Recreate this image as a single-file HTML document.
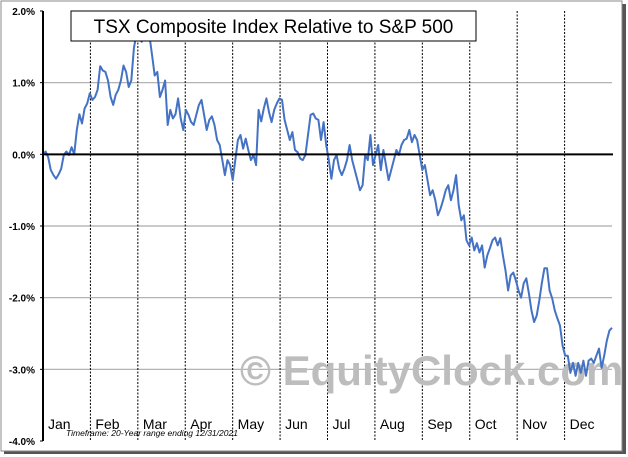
<!DOCTYPE html>
<html><head><meta charset="utf-8"><style>
body{margin:0;background:#fff;}
svg{display:block;font-family:"Liberation Sans",Verdana,sans-serif;}
</style></head><body>
<svg width="628" height="457" viewBox="0 0 628 457">
<rect x="4" y="4" width="622" height="450" fill="#555"/>
<rect x="1" y="1" width="621" height="450" fill="#fff" stroke="#888"/>
<g id="grid"></g>
<text x="240" y="385" font-size="42" font-weight="bold" fill="#bdbdbd">© EquityClock.com</text>
<g id="series"></g>
<g id="axes"></g>
<rect x="71" y="11" width="405" height="30" fill="#fff" stroke="#000"/>
<text x="273.5" y="33" font-size="19" text-anchor="middle" fill="#000">TSX Composite Index Relative to S&amp;P 500</text>
<text x="66" y="436" font-size="8.5" font-style="italic" fill="#000">Timeframe:  20-Year range ending 12/31/2021</text>
</svg>
<script>
const months=["Jan","Feb","Mar","Apr","May","Jun","Jul","Aug","Sep","Oct","Nov","Dec"];
const yTicks=[2,1,0,-1,-2,-3,-4];
const yTickLabels=["2.0%","1.0%","0.0%","-1.0%","-2.0%","-3.0%","-4.0%"];
const values=[0,0.04,-0.04,-0.22,-0.29,-0.34,-0.28,-0.2,-0.01,0.04,-0.01,0.1,0,0.34,0.56,0.43,0.64,0.71,0.85,0.76,0.8,0.9,1.23,1.17,1.15,1.03,0.8,0.69,0.83,0.9,1.03,1.24,1.15,0.94,1.03,1.48,1.69,1.62,1.57,1.64,1.69,1.65,1.38,1.1,1.15,0.8,0.9,1.03,0.41,0.62,0.5,0.56,0.78,0.5,0.34,0.62,0.55,0.45,0.41,0.55,0.69,0.76,0.55,0.34,0.48,0.53,0.41,0.2,0.13,-0.08,-0.29,-0.08,-0.15,-0.36,-0.08,0.2,0.27,0.08,0.22,0.06,-0.08,-0.01,-0.15,0.62,0.46,0.64,0.78,0.59,0.45,0.62,0.71,0.78,0.76,0.48,0.34,0.2,0.31,0.06,0.03,-0.06,-0.08,-0.01,0.27,0.55,0.57,0.5,0.48,0.2,0.45,0.13,-0.08,-0.34,-0.08,-0.01,-0.2,-0.29,-0.2,-0.08,0.13,-0.08,-0.22,-0.36,-0.5,-0.43,-0.01,-0.08,0.27,-0.15,-0.01,0.13,-0.22,0.06,-0.15,-0.36,-0.22,-0.08,0.06,-0.01,0.13,0.2,0.22,0.34,0.17,0.27,0.2,-0.01,-0.22,-0.15,-0.36,-0.57,-0.5,-0.64,-0.85,-0.76,-0.64,-0.5,-0.43,-0.64,-0.5,-0.29,-0.71,-0.92,-0.85,-1.2,-1.27,-1.16,-1.34,-1.24,-1.37,-1.27,-1.58,-1.41,-1.31,-1.2,-1.16,-1.27,-1.17,-1.41,-1.62,-1.9,-1.69,-1.65,-1.76,-1.9,-2.0,-1.8,-1.73,-1.94,-2.18,-2.34,-2.25,-2.04,-1.8,-1.59,-1.59,-1.9,-2.01,-2.18,-2.29,-2.39,-2.67,-2.81,-2.81,-3.05,-2.91,-3.09,-2.91,-3.05,-2.88,-3.09,-2.88,-2.85,-2.91,-2.81,-2.71,-2.98,-2.81,-2.6,-2.46,-2.42];
const NS="http://www.w3.org/2000/svg";
const X0=43,X1=612,YTOP=11,YBOT=441,VMAX=2,VMIN=-4;
const yS=v=>YTOP+(VMAX-v)/(VMAX-VMIN)*(YBOT-YTOP);
const mS=i=>X0+i*(X1-X0)/months.length;
const iS=i=>X0+i*(X1-X0)/(values.length-1);
function mk(t,a,p){const e=document.createElementNS(NS,t);for(const k in a)e.setAttribute(k,a[k]);p.appendChild(e);return e;}
const grid=document.getElementById('grid'),axes=document.getElementById('axes'),series=document.getElementById('series');
yTicks.forEach((v,i)=>{
  if(v!==0&&v!==VMAX&&v!==VMIN){const l=mk('line',{x1:X0,x2:X1,y1:yS(v),y2:yS(v),stroke:'#aaa','stroke-width':1.2},grid);
  
  }
  const t=mk('text',{x:35,y:yS(v)+4,'font-size':10,'font-weight':'bold','text-anchor':'end',fill:'#000'},axes);
  t.textContent=yTickLabels[i];
  
  
  const tk=mk('line',{x1:X0-3,x2:X0,y1:yS(v),y2:yS(v),stroke:'#000'},axes);
  
  
});
months.forEach((m,i)=>{
  if(i>0){const l=mk('line',{x1:mS(i),x2:mS(i),y1:YTOP,y2:YBOT,stroke:'#000','stroke-dasharray':'2,1.5','stroke-width':1},grid);
  
  }
  const t=mk('text',{x:mS(i)+5,y:429,'font-size':14,fill:'#000'},axes);
  t.textContent=m;
  
  
});
const zl=mk('line',{x1:X0,x2:X1+1,y1:yS(0),y2:yS(0),stroke:'#000','stroke-width':2},axes);


const ya=mk('line',{x1:X0,x2:X0,y1:YTOP,y2:YBOT,stroke:'#000','stroke-width':2},axes);


const p=mk('polyline',{points:values.map((v,i)=>iS(i).toFixed(1)+','+yS(v).toFixed(1)).join(' '),fill:'none',stroke:'#4472c4','stroke-width':2,'stroke-linejoin':'round'},series);


</script>
</body></html>
